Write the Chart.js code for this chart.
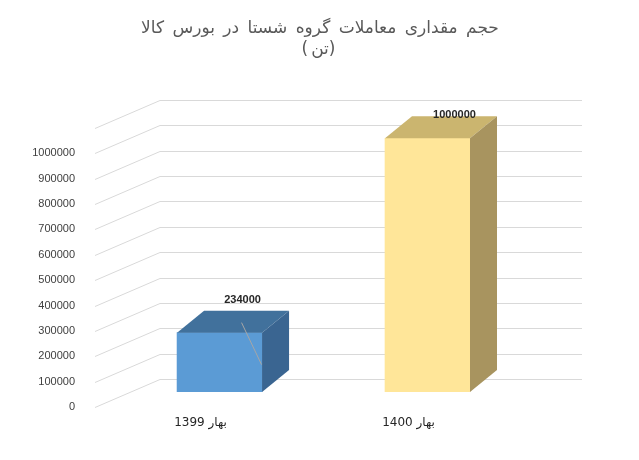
<!DOCTYPE html>
<html><head><meta charset="utf-8">
<script src="https://cdn.jsdelivr.net/npm/chart.js@4.4.0/dist/chart.umd.min.js"></script>
<style>html,body{margin:0;padding:0;background:#fff}#w{width:639px;height:460px}</style>
</head><body><div id="w"><canvas id="c"></canvas></div>
<script>
const categories = ["بهار 1399", "بهار 1400"];
const values = [234000, 1000000];
const titleLines = ["حجم مقداری معاملات گروه شستا در بورس کالا", "(تن)"];
const fronts = ["#5b9bd5", "#ffe699"];
const tops = ["#41719c", "#cbb56f"];
const sides = ["#3a6591", "#a8945f"];

const DX = 27, DY = -22;
const deco = {
  id: 'deco',
  beforeDatasetsDraw(chart) {
    const ctx = chart.ctx, y = chart.scales.y, ca = chart.chartArea;
    ctx.save();
    ctx.strokeStyle = '#d9d9d9'; ctx.lineWidth = 1;
    for (let v = 0; v <= 1100000; v += 100000) {
      const py = Math.round(y.getPixelForValue(v)) + 0.5;
      ctx.beginPath();
      ctx.moveTo(ca.left, py + 15);
      ctx.lineTo(ca.left + 65, py - 13);
      ctx.lineTo(ca.right, py - 13);
      ctx.stroke();
    }
    ctx.restore();
  },
  afterDatasetsDraw(chart) {
    const ctx = chart.ctx, meta = chart.getDatasetMeta(0);
    ctx.save();
    meta.data.forEach((b, i) => {
      const w = b.width, l = b.x - w / 2, r = b.x + w / 2, t = b.y, bt = b.base;
      ctx.fillStyle = tops[i];
      ctx.beginPath(); ctx.moveTo(l, t); ctx.lineTo(l + DX, t + DY); ctx.lineTo(r + DX, t + DY); ctx.lineTo(r, t); ctx.closePath(); ctx.fill();
      ctx.fillStyle = sides[i];
      ctx.beginPath(); ctx.moveTo(r, t); ctx.lineTo(r + DX, t + DY); ctx.lineTo(r + DX, bt + DY); ctx.lineTo(r, bt); ctx.closePath(); ctx.fill();
      ctx.fillStyle = '#262626'; ctx.font = 'bold 11px "Liberation Sans", Arial';
      ctx.textAlign = 'center';
      ctx.fillText(String(values[i]), b.x + 23 + (i ? 4 : 0), t - 30 + (i ? 10 : 0));
      ctx.font = '12px "DejaVu Sans", Arial';
      ctx.fillText(categories[i], b.x - 19, bt + 34);
    });
    const b0 = meta.data[0];
    ctx.strokeStyle = '#a6a6a6'; ctx.lineWidth = 1;
    ctx.beginPath(); ctx.moveTo(b0.x + 22, b0.y - 10); ctx.lineTo(b0.x + 42, b0.y + 32); ctx.stroke();
    ctx.fillStyle = '#595959'; ctx.font = '17px "DejaVu Sans", Arial'; ctx.textAlign = 'center';
    ctx.letterSpacing = '3px';
    ctx.fillText(titleLines[0], 320, 33);
    ctx.fillText(titleLines[1], 320, 54);
    ctx.restore();
  }
};

new Chart(document.getElementById('c'), {
  type: 'bar',
  data: { datasets: [{ data: values.map((v, i) => ({ x: i + 1, y: v })), backgroundColor: fronts, barThickness: 85 }] },
  options: {
    responsive: true, maintainAspectRatio: false, animation: false,
    layout: { padding: { top: 113, bottom: 68, left: 0, right: 57 } },
    plugins: { legend: { display: false }, tooltip: { enabled: false } },
    scales: {
      x: { type: 'linear', offset: false, min: 0.401, max: 2.743, display: false },
      y: {
        min: 0, max: 1100000, border: { display: false }, grid: { display: false },
        afterFit(s) { s.width = 95; },
        ticks: { stepSize: 100000, labelOffset: 15, padding: 12, color: '#404040',
          font: { size: 11, family: '"Liberation Sans", Arial' },
          callback: v => v <= 1000000 ? String(v) : '' }
      }
    }
  },
  plugins: [deco]
});
</script></body></html>
